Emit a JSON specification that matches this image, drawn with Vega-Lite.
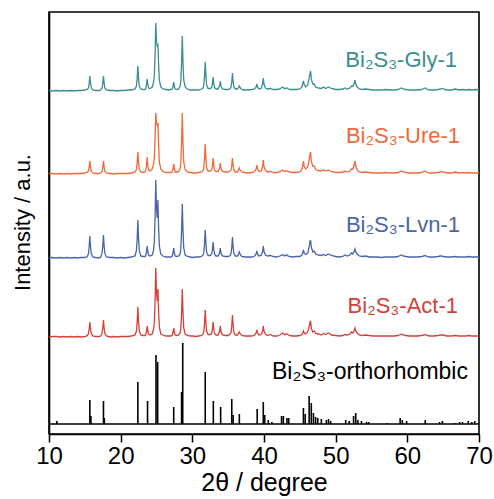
{
"$schema": "https://vega.github.io/schema/vega-lite/v6.json",
"width": 430, "height": 422, "autosize": "none",
"padding": {"left": 49, "top": 12, "right": 15, "bottom": 65},
"config": {"view": {"stroke": "#000", "strokeWidth": 1.6}, "font": "Liberation Sans",
 "axis": {"grid": false, "domainColor": "#000", "domainWidth": 1.6, "tickColor": "#000", "tickWidth": 1.5, "labelColor": "#000", "titleColor": "#000", "labelFont": "Liberation Sans", "titleFont": "Liberation Sans", "titleFontWeight": "normal"}},
"datasets": {
"xrd": [
{"x":10.0,"Gly":343.5,"Ure":260.5,"Lvn":176,"Act":97},
{"x":10.5,"Gly":343,"Ure":260.5,"Lvn":176.5,"Act":97.5},
{"x":11.0,"Gly":343.5,"Ure":260,"Lvn":176,"Act":97.5},
{"x":11.5,"Gly":343,"Ure":260.5,"Lvn":176.5,"Act":97},
{"x":12.0,"Gly":343.5,"Ure":260,"Lvn":176,"Act":97.5},
{"x":12.5,"Gly":343,"Ure":260.5,"Lvn":176.5,"Act":97},
{"x":13.0,"Gly":343.5,"Ure":260,"Lvn":176,"Act":97.5},
{"x":13.5,"Gly":343,"Ure":260.5,"Lvn":176.5,"Act":97},
{"x":14.0,"Gly":343.5,"Ure":260.5,"Lvn":176,"Act":97.5},
{"x":14.5,"Gly":343.5,"Ure":260.5,"Lvn":176.5,"Act":97},
{"x":15.0,"Gly":344,"Ure":261,"Lvn":176.5,"Act":97.5},
{"x":15.3,"Gly":344.5,"Ure":261.5,"Lvn":177,"Act":98},
{"x":15.5,"Gly":346,"Ure":263,"Lvn":180,"Act":100},
{"x":15.6,"Gly":350.5,"Ure":266.5,"Lvn":187,"Act":104.5},
{"x":15.7,"Gly":358,"Ure":273,"Lvn":198,"Act":112},
{"x":15.8,"Gly":350.5,"Ure":266.5,"Lvn":187,"Act":104.5},
{"x":15.9,"Gly":346,"Ure":262.6,"Lvn":180.4,"Act":100},
{"x":16.1,"Gly":344,"Ure":261,"Lvn":177,"Act":98},
{"x":16.5,"Gly":343.5,"Ure":260.5,"Lvn":176.5,"Act":97.5},
{"x":17.0,"Gly":343.5,"Ure":260.5,"Lvn":176,"Act":97.5},
{"x":17.2,"Gly":344,"Ure":261,"Lvn":177,"Act":98},
{"x":17.4,"Gly":346,"Ure":262.6,"Lvn":180.6,"Act":100.4},
{"x":17.5,"Gly":350.5,"Ure":266.5,"Lvn":187.5,"Act":105.5},
{"x":17.6,"Gly":358,"Ure":273,"Lvn":199,"Act":114},
{"x":17.7,"Gly":350.5,"Ure":266.5,"Lvn":187.5,"Act":105.5},
{"x":17.8,"Gly":346,"Ure":262.6,"Lvn":180.6,"Act":100.4},
{"x":18.0,"Gly":344,"Ure":261,"Lvn":177,"Act":98},
{"x":18.5,"Gly":343.5,"Ure":260.5,"Lvn":176.5,"Act":97},
{"x":19.0,"Gly":343.5,"Ure":260,"Lvn":176.5,"Act":97.5},
{"x":19.5,"Gly":343,"Ure":260.5,"Lvn":176,"Act":97},
{"x":20.0,"Gly":343.5,"Ure":260.5,"Lvn":176.5,"Act":97.5},
{"x":20.5,"Gly":343.5,"Ure":260.5,"Lvn":176,"Act":97.5},
{"x":21.0,"Gly":344,"Ure":260.5,"Lvn":176.5,"Act":97.5},
{"x":21.5,"Gly":344,"Ure":261,"Lvn":177,"Act":98},
{"x":22.0,"Gly":345,"Ure":262,"Lvn":178,"Act":99},
{"x":22.2,"Gly":348,"Ure":264.4,"Lvn":183.6,"Act":103},
{"x":22.3,"Gly":355.5,"Ure":271,"Lvn":195,"Act":112},
{"x":22.4,"Gly":368,"Ure":282,"Lvn":214,"Act":127},
{"x":22.5,"Gly":355.5,"Ure":271,"Lvn":195,"Act":112},
{"x":22.6,"Gly":348,"Ure":264.4,"Lvn":183.6,"Act":103},
{"x":22.8,"Gly":345,"Ure":262,"Lvn":178,"Act":99},
{"x":23.1,"Gly":344.5,"Ure":261.5,"Lvn":177.5,"Act":98.5},
{"x":23.4,"Gly":344.5,"Ure":262,"Lvn":177.5,"Act":98.5},
{"x":23.5,"Gly":345.4,"Ure":263.4,"Lvn":178.4,"Act":99.2},
{"x":23.6,"Gly":349,"Ure":268.5,"Lvn":182,"Act":102.5},
{"x":23.7,"Gly":355,"Ure":277,"Lvn":188,"Act":108},
{"x":23.8,"Gly":349,"Ure":268.5,"Lvn":182,"Act":102.5},
{"x":23.9,"Gly":346,"Ure":264,"Lvn":179,"Act":100},
{"x":24.1,"Gly":345.5,"Ure":263,"Lvn":178,"Act":99},
{"x":24.4,"Gly":347,"Ure":265,"Lvn":179,"Act":100},
{"x":24.6,"Gly":352,"Ure":270,"Lvn":184,"Act":105},
{"x":24.7,"Gly":359,"Ure":276,"Lvn":192,"Act":112},
{"x":24.8,"Gly":379,"Ure":294,"Lvn":216,"Act":133},
{"x":24.9,"Gly":411,"Ure":321,"Lvn":254,"Act":166},
{"x":25.0,"Gly":393,"Ure":312,"Lvn":226,"Act":142},
{"x":25.1,"Gly":388,"Ure":309,"Lvn":216,"Act":133},
{"x":25.2,"Gly":389,"Ure":311,"Lvn":234,"Act":145},
{"x":25.3,"Gly":368,"Ure":288,"Lvn":205,"Act":121},
{"x":25.4,"Gly":354,"Ure":272,"Lvn":188,"Act":107},
{"x":25.6,"Gly":347,"Ure":265,"Lvn":180,"Act":100},
{"x":25.9,"Gly":345,"Ure":262.5,"Lvn":178,"Act":99},
{"x":26.3,"Gly":344.5,"Ure":261.5,"Lvn":177,"Act":98},
{"x":26.7,"Gly":344,"Ure":261.5,"Lvn":177,"Act":98},
{"x":27.0,"Gly":344.5,"Ure":261.5,"Lvn":177,"Act":98},
{"x":27.2,"Gly":345,"Ure":262,"Lvn":178,"Act":99},
{"x":27.3,"Gly":347.5,"Ure":265,"Lvn":181,"Act":101.5},
{"x":27.4,"Gly":352,"Ure":270,"Lvn":186,"Act":106},
{"x":27.5,"Gly":347.5,"Ure":265,"Lvn":181,"Act":101.5},
{"x":27.6,"Gly":345,"Ure":262,"Lvn":178,"Act":99},
{"x":27.8,"Gly":344.5,"Ure":262,"Lvn":177.5,"Act":98.5},
{"x":28.1,"Gly":345,"Ure":262.5,"Lvn":178,"Act":99},
{"x":28.3,"Gly":348,"Ure":265.5,"Lvn":180,"Act":101},
{"x":28.4,"Gly":354,"Ure":272,"Lvn":186,"Act":106},
{"x":28.5,"Gly":371,"Ure":291,"Lvn":203,"Act":121},
{"x":28.6,"Gly":398,"Ure":321,"Lvn":230,"Act":145},
{"x":28.7,"Gly":371,"Ure":291,"Lvn":203,"Act":121},
{"x":28.8,"Gly":354,"Ure":272,"Lvn":186,"Act":106},
{"x":29.0,"Gly":347,"Ure":264.5,"Lvn":179,"Act":100},
{"x":29.3,"Gly":345,"Ure":262,"Lvn":177.5,"Act":98.5},
{"x":29.7,"Gly":344,"Ure":261.5,"Lvn":177,"Act":98},
{"x":30.1,"Gly":344,"Ure":261,"Lvn":176.5,"Act":98},
{"x":30.5,"Gly":344,"Ure":261,"Lvn":177,"Act":97.5},
{"x":30.9,"Gly":344,"Ure":261.5,"Lvn":177,"Act":98},
{"x":31.3,"Gly":345,"Ure":262,"Lvn":177.5,"Act":98.5},
{"x":31.5,"Gly":346,"Ure":263.5,"Lvn":179,"Act":100},
{"x":31.6,"Gly":349,"Ure":266,"Lvn":181.6,"Act":102.4},
{"x":31.7,"Gly":357.5,"Ure":275,"Lvn":190,"Act":110.5},
{"x":31.8,"Gly":372,"Ure":290,"Lvn":204,"Act":124},
{"x":31.9,"Gly":357.5,"Ure":275,"Lvn":190,"Act":110.5},
{"x":32.0,"Gly":349,"Ure":266,"Lvn":181.6,"Act":102.4},
{"x":32.2,"Gly":345.5,"Ure":263,"Lvn":178.5,"Act":99.5},
{"x":32.5,"Gly":345.5,"Ure":263,"Lvn":178.5,"Act":99.5},
{"x":32.7,"Gly":346.5,"Ure":264,"Lvn":180,"Act":100.5},
{"x":32.8,"Gly":350,"Ure":268,"Lvn":184,"Act":104.5},
{"x":32.9,"Gly":357,"Ure":276,"Lvn":192,"Act":112},
{"x":33.0,"Gly":350,"Ure":268,"Lvn":184,"Act":104.5},
{"x":33.1,"Gly":346.5,"Ure":264,"Lvn":180,"Act":100.5},
{"x":33.3,"Gly":345,"Ure":262.5,"Lvn":178,"Act":99},
{"x":33.6,"Gly":345,"Ure":262.5,"Lvn":178,"Act":99},
{"x":33.8,"Gly":348,"Ure":265.5,"Lvn":181,"Act":102.5},
{"x":33.9,"Gly":353,"Ure":271,"Lvn":186,"Act":108},
{"x":34.0,"Gly":348,"Ure":265.5,"Lvn":181,"Act":102.5},
{"x":34.2,"Gly":345,"Ure":262.5,"Lvn":178,"Act":99},
{"x":34.6,"Gly":344.5,"Ure":262,"Lvn":177.5,"Act":98.5},
{"x":35.0,"Gly":344.5,"Ure":262,"Lvn":177.5,"Act":98.5},
{"x":35.3,"Gly":345.5,"Ure":263,"Lvn":178.5,"Act":100},
{"x":35.4,"Gly":347,"Ure":264,"Lvn":180.5,"Act":101.5},
{"x":35.5,"Gly":352,"Ure":268,"Lvn":186.5,"Act":108},
{"x":35.6,"Gly":361,"Ure":276,"Lvn":197,"Act":119},
{"x":35.7,"Gly":352,"Ure":268,"Lvn":186.5,"Act":108},
{"x":35.8,"Gly":347,"Ure":264,"Lvn":180.5,"Act":101.5},
{"x":36.0,"Gly":345,"Ure":262,"Lvn":178,"Act":99},
{"x":36.3,"Gly":345,"Ure":262,"Lvn":178,"Act":99},
{"x":36.45,"Gly":346.5,"Ure":264,"Lvn":180,"Act":100.5},
{"x":36.55,"Gly":348,"Ure":266,"Lvn":182,"Act":102},
{"x":36.65,"Gly":346.5,"Ure":264,"Lvn":180,"Act":100.5},
{"x":36.9,"Gly":344.5,"Ure":262,"Lvn":177.5,"Act":98.5},
{"x":37.3,"Gly":344,"Ure":261.5,"Lvn":177,"Act":98},
{"x":37.8,"Gly":344,"Ure":261,"Lvn":177,"Act":98},
{"x":38.3,"Gly":344.5,"Ure":261.5,"Lvn":177,"Act":98},
{"x":38.7,"Gly":345,"Ure":262.5,"Lvn":178,"Act":99},
{"x":38.9,"Gly":347,"Ure":265,"Lvn":180,"Act":101},
{"x":39.0,"Gly":350,"Ure":269,"Lvn":183,"Act":104},
{"x":39.1,"Gly":347,"Ure":265,"Lvn":180,"Act":101},
{"x":39.3,"Gly":345,"Ure":262.5,"Lvn":178,"Act":99},
{"x":39.6,"Gly":345.5,"Ure":263,"Lvn":178.5,"Act":99.5},
{"x":39.8,"Gly":350,"Ure":267.5,"Lvn":182.5,"Act":103},
{"x":39.9,"Gly":356,"Ure":274,"Lvn":188,"Act":108},
{"x":40.0,"Gly":350,"Ure":267.5,"Lvn":182.5,"Act":103},
{"x":40.2,"Gly":346,"Ure":263.5,"Lvn":179,"Act":100},
{"x":40.5,"Gly":345,"Ure":262,"Lvn":178,"Act":98.5},
{"x":40.9,"Gly":345.5,"Ure":262.5,"Lvn":178.5,"Act":99.5},
{"x":41.3,"Gly":344.5,"Ure":261.5,"Lvn":177.5,"Act":98},
{"x":41.8,"Gly":344.5,"Ure":261.5,"Lvn":177,"Act":98},
{"x":42.2,"Gly":345,"Ure":262,"Lvn":178,"Act":99},
{"x":42.5,"Gly":346.5,"Ure":263.5,"Lvn":179,"Act":100.5},
{"x":42.6,"Gly":347,"Ure":264,"Lvn":179,"Act":101},
{"x":42.7,"Gly":346.5,"Ure":263.5,"Lvn":179,"Act":100.5},
{"x":42.9,"Gly":345,"Ure":262.5,"Lvn":178,"Act":99},
{"x":43.1,"Gly":346,"Ure":263,"Lvn":179,"Act":100},
{"x":43.2,"Gly":346,"Ure":263,"Lvn":179,"Act":100},
{"x":43.3,"Gly":345.5,"Ure":262.5,"Lvn":178,"Act":99.5},
{"x":43.6,"Gly":344.5,"Ure":262,"Lvn":177.5,"Act":98.5},
{"x":44.0,"Gly":344.5,"Ure":261.5,"Lvn":177,"Act":98},
{"x":44.5,"Gly":344.5,"Ure":261.5,"Lvn":177.5,"Act":98},
{"x":45.0,"Gly":345,"Ure":262,"Lvn":177.5,"Act":98.5},
{"x":45.3,"Gly":347,"Ure":265,"Lvn":179,"Act":99.5},
{"x":45.4,"Gly":350,"Ure":268,"Lvn":181,"Act":101},
{"x":45.5,"Gly":353,"Ure":273,"Lvn":184,"Act":103},
{"x":45.6,"Gly":350,"Ure":268,"Lvn":181,"Act":101},
{"x":45.8,"Gly":347,"Ure":265,"Lvn":179.5,"Act":100},
{"x":46.1,"Gly":349,"Ure":267,"Lvn":181,"Act":102},
{"x":46.3,"Gly":356,"Ure":274,"Lvn":187,"Act":107},
{"x":46.4,"Gly":360,"Ure":279,"Lvn":192,"Act":111},
{"x":46.5,"Gly":363,"Ure":282,"Lvn":194,"Act":113},
{"x":46.6,"Gly":355,"Ure":273,"Lvn":187,"Act":106},
{"x":46.8,"Gly":350,"Ure":268,"Lvn":182,"Act":102},
{"x":47.0,"Gly":350,"Ure":268,"Lvn":183,"Act":103},
{"x":47.2,"Gly":347,"Ure":264.5,"Lvn":180,"Act":100.5},
{"x":47.6,"Gly":346,"Ure":263.5,"Lvn":179,"Act":100},
{"x":48.0,"Gly":345.5,"Ure":263,"Lvn":178.5,"Act":99},
{"x":48.3,"Gly":347,"Ure":264,"Lvn":179.5,"Act":100.5},
{"x":48.6,"Gly":345.5,"Ure":263,"Lvn":178.5,"Act":99.5},
{"x":49.0,"Gly":347,"Ure":264,"Lvn":180,"Act":101},
{"x":49.4,"Gly":345.5,"Ure":262.5,"Lvn":178.5,"Act":99},
{"x":50.0,"Gly":344.5,"Ure":261.5,"Lvn":177.5,"Act":98.5},
{"x":50.5,"Gly":344.5,"Ure":261.5,"Lvn":177,"Act":98},
{"x":51.0,"Gly":345,"Ure":262,"Lvn":177.5,"Act":98.5},
{"x":51.3,"Gly":346,"Ure":263,"Lvn":179,"Act":99.5},
{"x":51.6,"Gly":345,"Ure":262,"Lvn":178,"Act":99},
{"x":52.0,"Gly":346,"Ure":263,"Lvn":179,"Act":100},
{"x":52.2,"Gly":348,"Ure":265,"Lvn":181,"Act":102},
{"x":52.4,"Gly":347.5,"Ure":265,"Lvn":180,"Act":101},
{"x":52.6,"Gly":351,"Ure":270,"Lvn":183,"Act":104},
{"x":52.7,"Gly":354,"Ure":273,"Lvn":185,"Act":106},
{"x":52.8,"Gly":350,"Ure":268,"Lvn":182,"Act":103},
{"x":53.0,"Gly":347,"Ure":264,"Lvn":180,"Act":101},
{"x":53.3,"Gly":345,"Ure":262,"Lvn":178,"Act":99},
{"x":53.7,"Gly":344.5,"Ure":261.5,"Lvn":177.5,"Act":98.5},
{"x":54.2,"Gly":345,"Ure":262,"Lvn":178,"Act":99},
{"x":54.7,"Gly":344.5,"Ure":261.5,"Lvn":177,"Act":98.5},
{"x":55.2,"Gly":344,"Ure":261,"Lvn":177,"Act":98},
{"x":55.8,"Gly":344,"Ure":261,"Lvn":177,"Act":98},
{"x":56.4,"Gly":344,"Ure":261,"Lvn":176.5,"Act":98},
{"x":57.0,"Gly":344.5,"Ure":261.5,"Lvn":177,"Act":98},
{"x":57.6,"Gly":344,"Ure":261,"Lvn":177,"Act":98},
{"x":58.2,"Gly":344,"Ure":261,"Lvn":177,"Act":98},
{"x":58.7,"Gly":344.5,"Ure":261.5,"Lvn":177.5,"Act":98.5},
{"x":59.0,"Gly":345.5,"Ure":262.5,"Lvn":178.5,"Act":99.5},
{"x":59.2,"Gly":346,"Ure":263,"Lvn":179,"Act":100},
{"x":59.4,"Gly":345,"Ure":262,"Lvn":178,"Act":99},
{"x":59.8,"Gly":344.5,"Ure":261.5,"Lvn":177.5,"Act":98.5},
{"x":60.3,"Gly":344,"Ure":261,"Lvn":177,"Act":98},
{"x":60.8,"Gly":344,"Ure":261,"Lvn":177,"Act":98},
{"x":61.4,"Gly":344,"Ure":261,"Lvn":177,"Act":98},
{"x":62.0,"Gly":344.5,"Ure":261.5,"Lvn":177.5,"Act":98.5},
{"x":62.3,"Gly":345.5,"Ure":262.5,"Lvn":178,"Act":99},
{"x":62.5,"Gly":346,"Ure":263,"Lvn":178.5,"Act":99.5},
{"x":62.7,"Gly":345,"Ure":262,"Lvn":177.5,"Act":98.5},
{"x":63.1,"Gly":344,"Ure":261,"Lvn":177,"Act":98},
{"x":63.7,"Gly":344,"Ure":261,"Lvn":177,"Act":98},
{"x":64.3,"Gly":344.5,"Ure":261.5,"Lvn":177.5,"Act":98.5},
{"x":64.6,"Gly":345,"Ure":262,"Lvn":178,"Act":99},
{"x":64.8,"Gly":345.5,"Ure":262.5,"Lvn":178,"Act":99},
{"x":65.0,"Gly":345,"Ure":262,"Lvn":177.5,"Act":99},
{"x":65.5,"Gly":344,"Ure":261,"Lvn":177,"Act":98},
{"x":66.1,"Gly":344,"Ure":261,"Lvn":177,"Act":98},
{"x":66.7,"Gly":345,"Ure":262,"Lvn":177.5,"Act":98.5},
{"x":67.2,"Gly":344,"Ure":261,"Lvn":177,"Act":98},
{"x":67.7,"Gly":344.5,"Ure":261.5,"Lvn":177,"Act":98},
{"x":68.2,"Gly":344,"Ure":261,"Lvn":177,"Act":98},
{"x":68.6,"Gly":344.5,"Ure":261.5,"Lvn":177.5,"Act":98.5},
{"x":69.0,"Gly":344,"Ure":261,"Lvn":177,"Act":98},
{"x":69.5,"Gly":344.5,"Ure":261,"Lvn":177,"Act":98},
{"x":70.0,"Gly":344,"Ure":261,"Lvn":177,"Act":98}
],
"ref": [
{"x":11.1,"y":13},{"x":15.7,"y":34},{"x":15.85,"y":18},{"x":17.6,"y":33},{"x":17.72,"y":16},
{"x":22.4,"y":52},{"x":23.75,"y":33},{"x":24.93,"y":79},{"x":25.16,"y":72},{"x":27.4,"y":27},
{"x":28.5,"y":42},{"x":28.66,"y":91},{"x":31.8,"y":62},{"x":32.93,"y":33},{"x":33.95,"y":27},
{"x":35.5,"y":35},{"x":35.7,"y":19},{"x":36.56,"y":20},{"x":39.05,"y":25},{"x":39.9,"y":32},
{"x":40.1,"y":19},{"x":40.6,"y":14},{"x":41.1,"y":12},{"x":42.45,"y":18},{"x":42.7,"y":18},
{"x":43.2,"y":16},{"x":43.45,"y":16},{"x":45.5,"y":26},{"x":45.75,"y":20},{"x":46.3,"y":38},
{"x":46.6,"y":31},{"x":46.9,"y":21},{"x":47.2,"y":17},{"x":47.5,"y":16},{"x":48.0,"y":15},
{"x":48.7,"y":14},{"x":49.0,"y":15},{"x":49.3,"y":13},{"x":51.4,"y":14},{"x":51.9,"y":13},
{"x":52.5,"y":18},{"x":52.8,"y":21},{"x":53.1,"y":14},{"x":53.6,"y":13},{"x":54.3,"y":12},
{"x":54.6,"y":12},{"x":57.2,"y":11},{"x":59.0,"y":16},{"x":59.3,"y":14},{"x":59.9,"y":13},
{"x":62.5,"y":14},{"x":64.5,"y":12},{"x":64.9,"y":13},{"x":66.6,"y":11},{"x":67.3,"y":12},
{"x":67.7,"y":12},{"x":68.5,"y":13},{"x":69.0,"y":12},{"x":69.4,"y":13}
],
"labels": [
{"label":"Bi₂S₃-Gly-1","sample":"Gly","x":66.93,"y":367},
{"label":"Bi₂S₃-Ure-1","sample":"Ure","x":67.35,"y":291},
{"label":"Bi₂S₃-Lvn-1","sample":"Lvn","x":67.35,"y":202.3},
{"label":"Bi₂S₃-Act-1","sample":"Act","x":67.07,"y":121.3},
{"label":"Bi₂S₃-orthorhombic","sample":"Ortho","x":68.46,"y":54.7}
]
},
"layer": [
{"data": {"name": "xrd"},
 "transform": [{"fold": ["Gly", "Ure", "Lvn", "Act"], "as": ["sample", "intensity"]}],
 "mark": {"type": "line", "strokeWidth": 1.3},
 "encoding": {
  "x": {"field": "x", "type": "quantitative", "scale": {"domain": [10, 70], "nice": false, "zero": false},
   "axis": {"title": "2θ / degree", "values": [10,15,20,25,30,35,40,45,50,55,60,65,70],
    "labelExpr": "datum.value % 10 === 0 ? datum.label : ''", "labelFlush": false, "labelOverlap": false,
    "tickSize": {"condition": {"test": "datum.value % 10 === 0", "value": 8}, "value": 5},
    "labelFontSize": 24, "titleFontSize": 25, "labelPadding": 2, "titlePadding": 2}},
  "y": {"field": "intensity", "type": "quantitative", "scale": {"domain": [0, 422], "nice": false},
   "axis": {"title": "Intensity / a.u.", "labels": false, "ticks": false, "titleFontSize": 22, "titlePadding": 15, "titleY": 210}},
  "color": {"field": "sample", "type": "nominal", "legend": null,
   "scale": {"domain": ["Gly", "Ure", "Lvn", "Act", "Ortho"], "range": ["#3b8e8e", "#f1683a", "#4a65a6", "#d4403a", "#000000"]}}
 }},
{"data": {"name": "ref"},
 "mark": {"type": "rule", "color": "#000", "strokeWidth": 1.6},
 "encoding": {"x": {"field": "x", "type": "quantitative"}, "y": {"field": "y", "type": "quantitative"}, "y2": {"datum": 10}}},
{"data": {"values": [{}]},
 "mark": {"type": "rule", "color": "#000", "strokeWidth": 1.5},
 "encoding": {"y": {"datum": 10}}},
{"data": {"name": "labels"},
 "mark": {"type": "text", "align": "right", "baseline": "alphabetic", "fontSize": 22, "font": "Liberation Sans"},
 "encoding": {"x": {"field": "x", "type": "quantitative"}, "y": {"field": "y", "type": "quantitative"},
  "text": {"field": "label"},
  "size": {"condition": {"test": "datum.sample === 'Ortho'", "value": 23}, "value": 22},
  "color": {"field": "sample", "type": "nominal", "legend": null,
   "scale": {"domain": ["Gly", "Ure", "Lvn", "Act", "Ortho"], "range": ["#3b8e8e", "#f1683a", "#4a65a6", "#d4403a", "#000000"]}}}}
]
}
